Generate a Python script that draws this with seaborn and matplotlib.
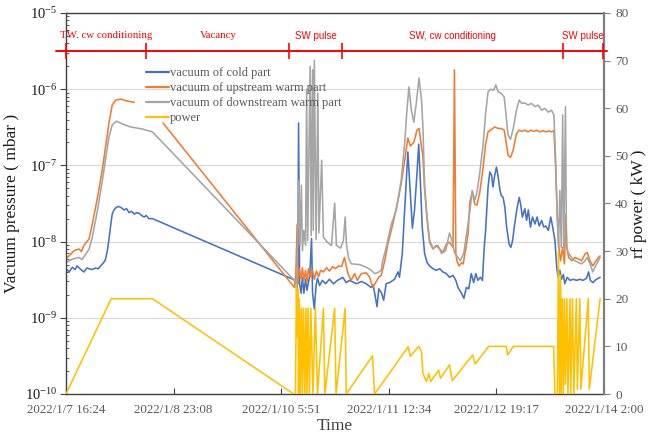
import numpy as np
import pandas as pd
import matplotlib
matplotlib.use("Agg")
import matplotlib.pyplot as plt
import matplotlib.dates as mdates
from matplotlib.lines import Line2D
from matplotlib.ticker import NullLocator
import seaborn as sns

# ---------------- data (hours after 2022/1/7 16:24) ----------------
start_time = "2022-01-07 16:24"
span_hours = 153.6

cold_hours = [0.0, 0.9, 1.8, 2.6, 3.2, 4.0, 5.1, 6.0, 6.6, 7.4, 8.5, 9.2, 9.9, 10.6, 11.2, 11.8, 12.3, 12.8, 13.2, 13.7,
              14.3, 15.0, 15.7, 16.6, 17.3, 18.0, 18.7, 19.5, 20.2, 20.9, 21.6, 22.3, 22.9, 23.7, 24.7,
              65.5, 66.0, 66.2, 66.4, 66.7, 67.1, 67.5, 67.9, 68.4, 68.8, 69.2, 69.6, 70.1, 70.4, 70.9, 71.4, 71.8, 72.4,
              73.2, 74.1, 75.2, 76.4, 77.5, 78.1, 79.0, 80.0, 80.9,
              83.0, 84.3, 85.7, 87.1, 87.7, 88.8, 89.3, 90.1, 90.7, 91.4, 92.4, 93.8, 94.8, 95.2, 96.0, 96.7, 97.6, 98.3,
              98.9, 99.5, 100.2, 100.7, 101.2, 101.7, 102.4, 103.1, 103.8, 104.8, 105.7, 106.7, 107.6, 108.6, 109.5,
              110.5, 111.3, 111.9, 112.9, 113.6, 114.3, 115.0,
              115.7, 116.4, 117.0, 117.6, 118.3, 118.9, 119.4, 119.8, 120.5, 121.0, 121.5, 121.9, 122.4, 122.9, 123.4,
              123.9, 124.3, 124.8, 125.3, 125.8, 126.5, 127.0, 127.5, 128.1, 128.8, 129.4, 129.8, 130.3, 131.0, 131.5,
              132.0, 132.6, 133.2, 133.9, 134.5, 135.1, 135.8, 136.4, 137.0, 137.7, 138.4, 138.9, 139.6, 140.1, 140.5,
              141.0, 141.5, 142.0, 142.4, 143.1, 143.9, 144.8, 145.8, 146.7, 147.6, 148.6, 149.2, 149.7, 150.4, 151.4,
              152.5]
cold_mbar = [4.4e-9, 4.0e-9, 4.6e-9, 4.3e-9, 4.8e-9, 4.4e-9, 4.0e-9, 4.5e-9, 4.4e-9, 4.3e-9, 4.5e-9, 4.4e-9, 4.8e-9,
             5.2e-9, 5.7e-9, 7.6e-9, 1.1e-8, 1.7e-8, 2.3e-8, 2.6e-8, 2.8e-8, 2.9e-8, 2.8e-8, 2.6e-8, 2.7e-8, 2.4e-8,
             2.5e-8, 2.3e-8, 2.4e-8, 2.35e-8, 2.2e-8, 2.1e-8, 2.2e-8, 2.0e-8, 2.0e-8,
             3.1e-9, 2.3e-9, 4.2e-9, 3.6e-7, 2.8e-9, 2.1e-9, 3.4e-9, 2.1e-9, 3.2e-9, 2.3e-9, 2.9e-9, 3.6e-9, 1.1e-8,
             2.1e-9, 1.3e-9, 2.65e-9, 3.3e-9, 2.65e-9, 3.1e-9, 2.8e-9, 3.2e-9, 2.8e-9, 3.1e-9, 3.2e-9, 3.4e-9, 2.9e-9,
             3.1e-9,
             2.8e-9, 3.0e-9, 2.8e-9, 2.5e-9, 2.7e-9, 1.4e-9, 2.4e-9, 2.1e-9, 1.7e-9, 2.8e-9, 2.9e-9, 3.2e-9, 4.0e-9,
             3.4e-9, 6.9e-9, 2.6e-8, 1.5e-7, 4.3e-8, 1.5e-8, 2.6e-8, 7.8e-8, 1.9e-7, 5.75e-8, 1.55e-8, 6.9e-9, 5.3e-9,
             4.8e-9, 4.4e-9, 4.2e-9, 4.4e-9, 4.0e-9, 3.8e-9, 3.4e-9, 3.6e-9, 3.1e-9, 2.5e-9, 2.1e-9, 1.8e-9, 2.5e-9,
             2.4e-9,
             3.8e-9, 2.9e-9, 3.8e-9, 3.1e-9, 3.4e-9, 3.1e-9, 8.4e-9, 1.4e-8, 5.2e-8, 8.2e-8, 7.4e-8, 5.2e-8, 7.4e-8,
             9.5e-8, 7.0e-8, 4.7e-8, 4.0e-8, 3.8e-8, 2.8e-8, 1.55e-8, 9.3e-9, 8.4e-9, 1.03e-8, 1.7e-8, 2.8e-8, 3.8e-8,
             3.1e-8, 2.1e-8, 2.7e-8, 1.9e-8, 2.6e-8, 1.55e-8, 2.1e-8, 1.7e-8, 2.1e-8, 1.6e-8, 1.9e-8, 1.55e-8, 1.6e-8,
             1.4e-8, 2.1e-8, 1.6e-8, 1.03e-8, 4.6e-9, 3.4e-9, 4.2e-9, 3.2e-9, 3.7e-9, 2.8e-9, 3.4e-9, 3.1e-9, 3.2e-9,
             3.1e-9, 3.2e-9, 3.1e-9, 3.3e-9, 4.0e-9, 3.1e-9, 2.9e-9, 3.2e-9, 3.4e-9]

upstream_hours = [0.0, 0.9, 2.3, 3.7, 4.4, 5.1, 6.6, 7.5, 9.0, 10.4, 11.4, 12.3, 13.2, 14.2, 15.6, 17.5, 19.5, 20.0,
                  27.7, 65.2,
                  65.6, 66.0, 66.2, 66.6, 67.1, 67.5, 67.9, 68.4, 68.8, 69.2, 69.8, 70.4, 70.9, 71.5, 72.1, 72.7, 73.5,
                  74.4, 75.2, 76.1, 76.9, 77.8, 78.7, 79.5, 80.5, 81.4, 82.4, 83.2, 84.3, 85.7, 86.7, 87.6, 88.4, 89.3,
                  90.0, 91.0, 91.9, 93.3, 94.8, 95.7, 96.7, 97.6, 98.3, 99.3, 100.2, 100.8, 101.5, 101.9, 102.4, 103.1,
                  103.8, 104.8, 105.7, 106.7, 107.6, 108.6, 109.5, 110.5, 110.9, 111.3, 111.6, 112.2, 113.0, 113.4,
                  114.2, 114.8,
                  115.3, 116.0, 116.7, 117.3, 118.1, 119.1, 119.8, 120.5, 121.2, 122.4, 123.4, 124.3, 125.1, 125.6,
                  126.2, 126.9, 127.7, 128.6, 129.4, 130.1, 131.0, 131.9, 132.7, 133.6, 134.4, 135.3, 136.2, 137.0,
                  137.9, 138.6, 139.3, 139.7, 140.3, 140.8, 141.2, 141.8, 142.3, 142.7, 143.0, 143.5, 144.4, 145.3,
                  146.3, 147.2, 148.2, 148.8, 149.6, 150.4, 151.0, 152.0, 152.5]
upstream_mbar = [6.0e-9, 6.5e-9, 7.6e-9, 8.0e-9, 7.4e-9, 8.9e-9, 1.09e-8, 1.7e-8, 3.8e-8, 9.0e-8, 1.9e-7, 3.7e-7,
                 6.2e-7, 7.2e-7, 7.4e-7, 7.0e-7, 6.7e-7, np.nan, 3.6e-7, 2.5e-9,
                 3.6e-9, 1.7e-8, 2.8e-9, 4.4e-9, 3.3e-9, 4.55e-9, 3.1e-9, 4.2e-9, 2.9e-9, 4.4e-9, 3.45e-9, 4.2e-9,
                 3.2e-9, 4.1e-9, 3.45e-9, 4.2e-9, 4.0e-9, 4.55e-9, 4.1e-9, 4.7e-9, 4.4e-9, 4.8e-9, 4.7e-9, 6.2e-9,
                 3.8e-9, 3.1e-9, 3.8e-9, 3.1e-9, 3.8e-9, 3.9e-9, 3.4e-9, 2.5e-9, 2.9e-9, 3.4e-9, 3.6e-9, 5.6e-9,
                 9.3e-9, 1.7e-8, 3.5e-8, 5.75e-8, 1.17e-7, 2.3e-7, 1.8e-7, 2.0e-7, 2.9e-7, 3.05e-7, 1.75e-7, 1.3e-7,
                 4.7e-8, 1.9e-8, 9.8e-9, 8.0e-9, 8.9e-9, 8.0e-9, 7.2e-9, 9.3e-9, 9.8e-9, 8.4e-9, 1.8e-6, 6.9e-9,
                 5.6e-9, 4.8e-9, 5.3e-9, 5.1e-9, 8.4e-9, 1.27e-8,
                 3.3e-8, 4.5e-8, 3.1e-8, 3.0e-8, 4.3e-8, 9.5e-8, 1.9e-7, 2.75e-7, 2.9e-7, 3.2e-7, 3.05e-7, 3.05e-7,
                 2.9e-7, 2.1e-7, 1.36e-7, 1.27e-7, 1.6e-7, 2.6e-7, 2.9e-7, 2.8e-7, 2.9e-7, 2.75e-7, 2.9e-7, 2.8e-7,
                 2.9e-7, 2.75e-7, 2.85e-7, 2.75e-7, 2.85e-7, 2.75e-7, 2.85e-7, 1.17e-7, 1.9e-8, 7.6e-9, 5.6e-9,
                 8.4e-9, 5.1e-9, 2.3e-8, 8.4e-9, 6.2e-9, 5.6e-9, 6.2e-9, 5.9e-9, 5.6e-9, 6.9e-9, 7.2e-9, 5.6e-9,
                 4.8e-9, 5.3e-9, 6.2e-9, 6.5e-9]

downstream_hours = [0.0, 1.8, 3.7, 4.6, 5.7, 6.6, 7.5, 9.0, 10.4, 11.4, 12.3, 13.2, 14.4, 16.1, 18.4, 21.8, 24.7, 65.2,
                    65.8, 66.2, 66.5, 66.8, 67.2, 67.5, 67.9, 68.4, 68.7, 69.0, 69.7, 70.0, 70.4, 70.6, 70.9, 71.4,
                    71.9, 72.2, 73.0, 73.5, 74.7, 75.8, 76.7, 77.2, 78.4, 79.2, 79.7, 80.1, 80.7, 81.5, 83.8, 85.8,
                    87.2, 88.1, 88.9, 90.0, 90.4, 91.4, 92.9, 94.3, 95.7, 96.7, 97.3, 97.9, 98.6, 99.3, 100.0, 100.8,
                    101.5, 101.9, 102.4, 103.1, 103.8, 104.8, 106.2, 107.2, 108.4, 109.5, 110.2, 110.9, 111.9, 112.6,
                    113.6, 114.5,
                    115.3, 116.0, 116.7, 117.3, 118.1, 119.1, 119.8, 120.5, 121.2, 122.1, 122.7, 123.4, 124.3, 125.1,
                    125.6, 126.2, 126.9, 127.7, 128.6, 129.4, 130.1, 131.0, 131.9, 132.9, 133.9, 134.8, 135.8, 136.7,
                    137.7, 138.6, 139.3, 139.8, 140.2, 140.6, 141.0, 141.4, 141.8, 142.1, 142.6, 142.9, 143.4, 144.3,
                    145.3, 146.3, 147.2, 148.2, 148.8, 149.6, 150.4, 151.0, 152.0, 152.5]
downstream_mbar = [5.3e-9, 5.9e-9, 6.2e-9, 5.8e-9, 6.9e-9, 8.0e-9, 1.14e-8, 2.6e-8, 6.4e-8, 1.3e-7, 2.4e-7, 3.4e-7,
                   3.8e-7, 3.5e-7, 3.2e-7, 3.0e-7, 2.75e-7, 3.1e-9,
                   2.7e-9, 1.2e-8, 6.4e-8, 8.9e-9, 5.5e-8, 7.6e-9, 1.4e-8, 8.9e-9, 1.0e-6, 1.03e-8, 2.0e-6, 1.2e-8,
                   1.8e-6, 1.4e-8, 2.4e-6, 1.06e-8, 8.9e-7, 1.3e-8, 1.17e-7, 1.14e-8, 9.7e-9, 8.9e-9, 3.2e-8, 8.9e-9,
                   8.2e-9, 1.03e-8, 2.1e-8, 8.9e-9, 6.0e-9, 5.1e-9, 5.0e-9, 4.6e-9, 4.2e-9, 3.8e-9, 3.9e-9, 4.2e-9,
                   5.6e-9, 8.3e-9, 1.7e-8, 2.6e-8, 6.4e-8, 2.0e-7, 5.0e-7, 1.07e-6, 5.3e-7, 3.7e-7, 6.5e-7, 1.4e-6,
                   7.2e-7, 3.2e-7, 5.2e-8, 2.1e-8, 1.04e-8, 8.1e-9, 8.9e-9, 7.0e-9, 7.6e-9, 1.3e-8, 1.04e-8, 7.2e-9,
                   6.2e-9, 5.6e-9, 7.2e-9, 1.4e-8,
                   2.5e-8, 4.7e-8, 3.5e-8, 4.3e-8, 7.8e-8, 1.9e-7, 4.8e-7, 9.2e-7, 1.0e-6, 9.7e-7, 1.14e-6, 9.2e-7,
                   8.8e-7, 7.9e-7, 4.8e-7, 2.5e-7, 2.2e-7, 3.05e-7, 5.3e-7, 7.2e-7, 6.5e-7, 6.6e-7, 6.2e-7, 6.5e-7,
                   5.9e-7, 6.2e-7, 5.3e-7, 5.6e-7, 5.0e-7, 5.3e-7, 4.6e-7, 1.17e-7, 2.6e-8, 8.4e-9, 4.7e-8, 8.4e-9,
                   4.6e-7, 8.4e-9, 5.9e-7, 8.4e-9, 7.2e-9, 6.2e-9, 5.6e-9, 5.3e-9, 5.1e-9, 5.6e-9, 6.2e-9, 5.1e-9,
                   4.0e-9, 4.6e-9, 5.6e-9, 6.2e-9]

power_hours = [0.0, 12.9, 24.7, 65.0, 65.5, 65.8, 66.0, 66.2, 66.4, 66.6, 66.9, 67.2, 67.5, 67.8, 68.2, 68.5, 68.8,
               69.1, 69.5, 69.9, 70.5, 71.2, 71.8, 73.5, 73.9, 76.7, 77.1, 79.7, 80.0, 87.5, 88.1, 97.7, 98.3, 100.7,
               101.5, 101.9, 102.9, 103.6, 104.1, 106.4, 106.9, 109.5, 110.3, 116.1, 116.8, 120.7, 125.7, 126.1,
               127.7, 139.2, 139.6, 140.3, 140.6, 140.9, 141.2, 141.4, 141.7, 142.0, 142.3, 142.6, 143.0, 143.3,
               143.9, 144.1, 144.6, 145.0, 145.7, 146.0, 146.7, 147.0, 149.1, 149.4, 152.5]
power_kw = [0, 20, 20, 0, 0, 23, 12, 22, 0, 20, 0, 18, 0, 18, 0, 18, 0, 18, 0, 18, 0, 18, 0, 18, 0, 18, 0, 18, 0, 8,
            0, 9.9, 7.9, 10, 8.9, 4.3, 2.6, 4.3, 2.6, 5.0, 3.3, 6.1, 2.8, 8.2, 6.3, 10, 10, 8.2, 10, 10, 0, 0, 30,
            0, 25, 0, 20, 0, 20, 2, 20, 0, 20, 0, 20, 0, 20, 1, 20, 1, 20, 1, 20]

series_names = ["vacuum of cold part", "vacuum of upstream warm part",
                "vacuum of downstream warm part", "power"]
series_colors = ["#4472C4", "#ED7D31", "#A5A5A5", "#FFC000"]

phase_bounds_hours = [0.0, 22.9, 63.8, 78.9, 141.9, 153.3]
phase_labels = ["TW. cw conditioning", "Vacancy", "SW pulse", "SW, cw conditioning", "SW pulse"]
phase_fonts = ["Liberation Serif", "Liberation Serif", "Liberation Sans", "Liberation Sans", "Liberation Sans"]
phase_sizes = [7.8, 7.8, 7.0, 7.0, 7.0]

x_tick_labels = ["2022/1/7 16:24", "2022/1/8 23:08", "2022/1/10 5:51",
                 "2022/1/11 12:34", "2022/1/12 19:17", "2022/1/14 2:00"]
power_ticks = [0, 10, 20, 30, 40, 50, 60, 70, 80]

# ---------------- helpers ----------------
t0 = pd.Timestamp(start_time)


def to_time(hours):
    return t0 + pd.to_timedelta(np.asarray(hours, dtype=float), unit="h")


def to_num(hours):
    return mdates.date2num(to_time(hours).values)


def draw(axis, hours, values, color):
    df = pd.DataFrame({"time": to_time(hours), "value": np.asarray(values, dtype=float)})
    ok = df["value"].notna()
    groups = (~ok).cumsum()
    for _, seg in df[ok].groupby(groups[ok]):
        sns.lineplot(data=seg, x="time", y="value", ax=axis, color=color, lw=1.15,
                     estimator=None, sort=False, legend=False)


# ---------------- figure ----------------
sns.set_style("ticks")
plt.rcParams["font.family"] = ["Liberation Serif", "DejaVu Serif"]
plt.rcParams["mathtext.fontset"] = "stix"

fig = plt.figure(figsize=(6.52, 4.36), dpi=100)
ax = fig.add_axes([66 / 652, 42 / 436, 538 / 652, 381 / 436])
ax.set_yscale("log")
ax2 = ax.twinx()

draw(ax, cold_hours, cold_mbar, series_colors[0])
draw(ax, upstream_hours, upstream_mbar, series_colors[1])
draw(ax, downstream_hours, downstream_mbar, series_colors[2])
draw(ax2, power_hours, power_kw, series_colors[3])
ax2.set_xlabel("")

# phase bar
bar_level = 72
ax2.plot(to_num([-2.9, 154.5]), [bar_level, bar_level], color="#FF0000", lw=1.4, clip_on=False, zorder=5)
ax2.plot(to_num(phase_bounds_hours), [bar_level] * len(phase_bounds_hours), ls="none", marker="|",
         ms=11, mew=1.2, color="#FF0000", clip_on=False, zorder=5)
mids = [(a + b) / 2 for a, b in zip(phase_bounds_hours[:-1], phase_bounds_hours[1:])]
for m, lab, fam, fs in zip(to_num(mids), phase_labels, phase_fonts, phase_sizes):
    ax2.text(m, 75.2, lab, ha="center", va="center", color="#FF0000", fontsize=fs, family=fam)

# axes limits & ticks
ax.set_xlim(to_num([0.0])[0], to_num([span_hours])[0])
ax.set_ylim(1e-10, 1e-5)
ax2.set_ylim(0, 80)
tick_pos = to_num([k * span_hours / (len(x_tick_labels) - 1) for k in range(len(x_tick_labels))])
ax.set_xticks(tick_pos)
ax.set_xticklabels(x_tick_labels)
ax.xaxis.set_minor_locator(NullLocator())
ax2.set_yticks(power_ticks)

ax.grid(True, axis="y", which="major", color="#D9D9D9", lw=0.8)
ax.grid(False, axis="x")
ax.set_axisbelow(True)

for s in ["left", "top", "bottom"]:
    ax.spines[s].set_color("#404040")
    ax.spines[s].set_linewidth(1.0)
ax.spines["right"].set_visible(False)
for s in ["left", "top", "bottom"]:
    ax2.spines[s].set_visible(False)
ax2.spines["right"].set_color("#7F7F7F")
ax2.spines["right"].set_linewidth(1.6)

ax.tick_params(axis="y", which="major", direction="out", length=4, labelsize=10.5, color="#404040",
               labelcolor="#1a1a1a", pad=2)
ax.tick_params(axis="y", which="minor", direction="in", length=2.5, color="#404040")
ax.tick_params(axis="x", direction="in", length=4, labelsize=9.3, labelcolor="#595959", color="#404040", pad=7)
ax2.tick_params(axis="y", direction="out", length=4, color="#7F7F7F", labelcolor="#595959", labelsize=9.5, pad=4)

ax.set_xlabel("Time", fontsize=12.5, color="#404040")
ax.xaxis.set_label_coords(0.5, -0.062)
ax.set_ylabel("Vacuum pressure ( mbar )", fontsize=12.5, color="#1a1a1a")
ax.yaxis.set_label_coords(-0.086, 0.5)
ax2.set_ylabel("rf power ( kW )", fontsize=12.5, color="#1a1a1a")
ax2.yaxis.set_label_coords(1.050, 0.5)

handles = [Line2D([], [], color=c, lw=1.6) for c in series_colors]
ax2.legend(handles, series_names, loc="upper left", bbox_to_anchor=(0.149, 0.858), frameon=False,
           fontsize=9, handlelength=1.8, handletextpad=0.1, labelspacing=0.25, borderpad=0,
           borderaxespad=0, labelcolor="#595959")

fig.savefig("out.png", dpi=100)
